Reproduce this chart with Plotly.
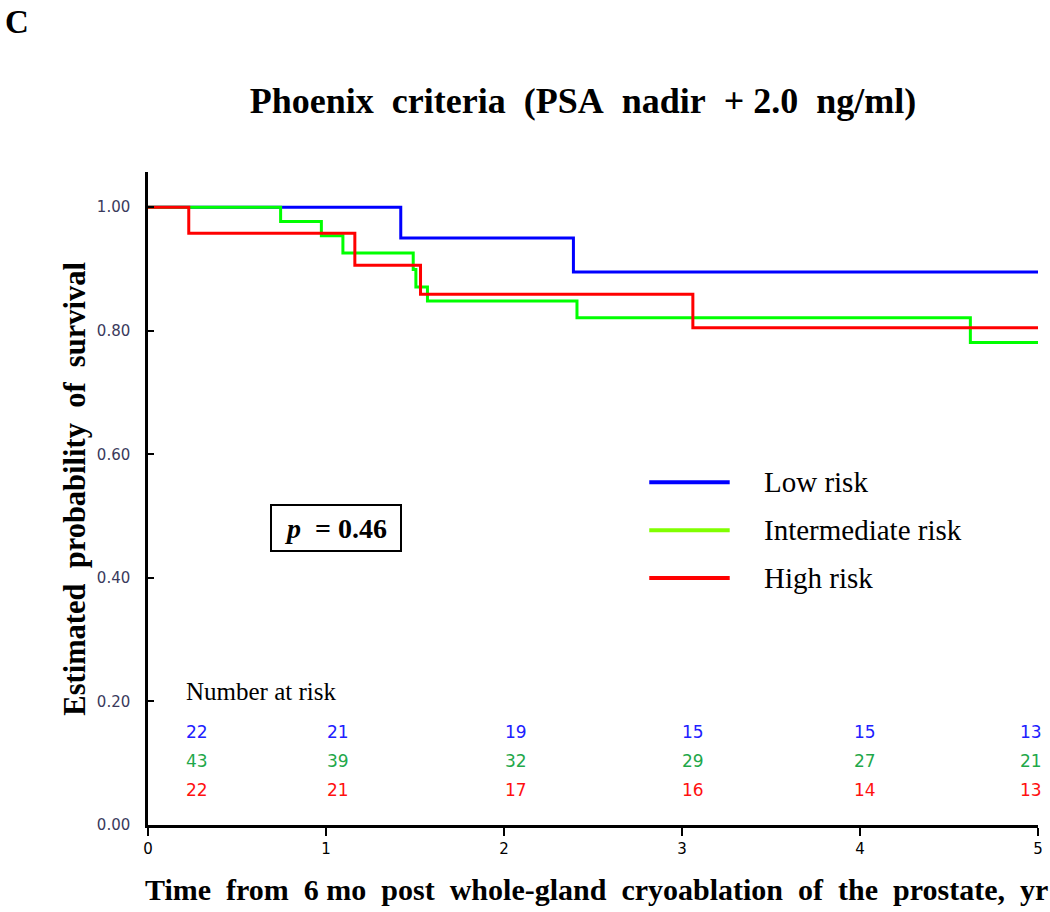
import plotly.graph_objects as go

# Kaplan-Meier step data (time in years, survival probability)
low_times = [0, 1.42, 2.39, 5.0]
low_surv = [1.000, 0.950, 0.895, 0.895]

int_times = [0, 0.745, 0.974, 1.095, 1.49, 1.505, 1.57, 2.41, 4.62, 5.0]
int_surv = [1.000, 0.977, 0.954, 0.926, 0.899, 0.871, 0.848, 0.821, 0.781, 0.781]

high_times = [0, 0.229, 1.162, 1.531, 3.061, 5.0]
high_surv = [1.000, 0.958, 0.906, 0.859, 0.805, 0.805]

# Number at risk table
risk_times = [0, 1, 2, 3, 4, 5]
low_at_risk = [22, 21, 19, 15, 15, 13]
int_at_risk = [43, 39, 32, 29, 27, 21]
high_at_risk = [22, 21, 17, 16, 14, 13]

group_names = ["Low risk", "Intermediate risk", "High risk"]
p_value = "0.46"

SERIF = "Liberation Serif, Times New Roman, serif"
SANS = "DejaVu Sans, Verdana, sans-serif"

curve_colors = ["#0000ff", "#00ff00", "#ff0000"]
legend_colors = ["#0000ff", "#80ff00", "#ff0000"]
number_colors = ["#2020ff", "#1fa84a", "#ff1010"]

NB = "\u00a0"

fig = go.Figure()

for name, t, s, c in zip(group_names,
                         [low_times, int_times, high_times],
                         [low_surv, int_surv, high_surv],
                         curve_colors):
    fig.add_trace(go.Scatter(
        x=t, y=s, mode="lines", name=name,
        line=dict(color=c, width=3, shape="hv"),
        showlegend=False,
    ))

annotations = []

# legend drawn by hand (long line samples like the original)
legend_y = [0.555, 0.477, 0.400]
shapes = []
for name, c, ly in zip(group_names, legend_colors, legend_y):
    shapes.append(dict(type="line", xref="x", yref="y",
                       x0=2.816, x1=3.268, y0=ly, y1=ly,
                       line=dict(color=c, width=4)))
    annotations.append(dict(x=3.447, y=ly, xref="x", yref="y",
                            text=name, showarrow=False,
                            xanchor="left", yanchor="middle",
                            font=dict(family=SERIF, size=29, color="black")))

# p-value box
annotations.append(dict(
    x=1.056, y=0.4806, xref="x", yref="y", showarrow=False,
    text="<b><i>p</i>" + NB * 2 + "= " + p_value + "</b>",
    font=dict(family=SERIF, size=28, color="black"),
    bordercolor="black", borderwidth=2, borderpad=0,
    width=128, height=44, align="center", bgcolor="white",
))

# number at risk
annotations.append(dict(x=0.205, y=0.216, xref="x", yref="y", showarrow=False,
                        text="Number at risk", xanchor="left",
                        font=dict(family=SERIF, size=25, color="black")))
col_x = [0.275, 1.07, 2.07, 3.06, 4.03, 4.96]
row_y = [0.150, 0.104, 0.057]
for counts, c, ry in zip([low_at_risk, int_at_risk, high_at_risk], number_colors, row_y):
    for cx, n in zip(col_x, counts):
        annotations.append(dict(x=cx, y=ry, xref="x", yref="y", showarrow=False,
                                text=str(n),
                                font=dict(family=SANS, size=17, color=c)))

# panel letter
annotations.append(dict(x=(2 - 148) / 895, y=(825 - 2) / 653, xref="paper", yref="paper",
                        text="<b>C</b>", showarrow=False,
                        xanchor="left", yanchor="top",
                        font=dict(family=SERIF, size=33, color="black")))

# axis titles
annotations.append(dict(x=(75 - 148) / 895, y=0.545, xref="paper", yref="y",
                        xanchor="center", yanchor="middle",
                        text="<b>Estimated" + NB * 2 + "probability" + NB * 2 + "of"
                             + NB * 2 + "survival</b>",
                        textangle=-90, showarrow=False,
                        font=dict(family=SERIF, size=30.5, color="black")))
annotations.append(dict(x=0.504, y=-0.0995, xref="paper", yref="paper",
                        text="<b>Time" + NB * 2 + "from" + NB * 2 + "6" + NB + "mo" + NB * 2
                             + "post" + NB * 2 + "whole-gland" + NB * 2 + "cryoablation"
                             + NB * 2 + "of" + NB * 2 + "the" + NB * 2 + "prostate," + NB * 2
                             + "yr</b>",
                        showarrow=False, xanchor="center", yanchor="middle",
                        font=dict(family=SERIF, size=30, color="black")))

fig.update_layout(
    width=1050, height=912,
    paper_bgcolor="white", plot_bgcolor="white",
    margin=dict(l=148, r=7, t=172, b=87),
    title=dict(
        text="<b>Phoenix" + NB * 2 + "criteria" + NB * 2 + "(PSA" + NB * 2 + "nadir"
             + NB * 2 + "+" + NB + "2.0" + NB * 2 + "ng/ml)</b>",
        x=583 / 1050, xanchor="center", y=1 - 100 / 912, yanchor="middle",
        font=dict(family=SERIF, size=36, color="black"),
    ),
    annotations=annotations,
    shapes=shapes,
    xaxis=dict(
        range=[0, 5], tickvals=risk_times, ticktext=[str(t) for t in risk_times],
        showgrid=False, zeroline=False,
        showline=True, linecolor="black", linewidth=2.5,
        ticks="outside", ticklen=8, tickwidth=2, tickcolor="black",
        tickfont=dict(family=SANS, size=15, color="black"),
    ),
    yaxis=dict(
        range=[0, 1.057], tickvals=[0, 0.2, 0.4, 0.6, 0.8, 1.0],
        tickformat=".2f",
        showgrid=False, zeroline=False,
        showline=True, linecolor="black", linewidth=2.5,
        ticks="inside", ticklen=6, tickwidth=2, tickcolor="black",
        ticklabelstandoff=12,
        tickfont=dict(family=SANS, size=15, color="#3a3a5c"),
    ),
)

# drop the default page margin so the figure sits at the window's corner
fig.write_html("out.html", config={"displayModeBar": False},
               post_script="document.body.style.margin='0px';")
